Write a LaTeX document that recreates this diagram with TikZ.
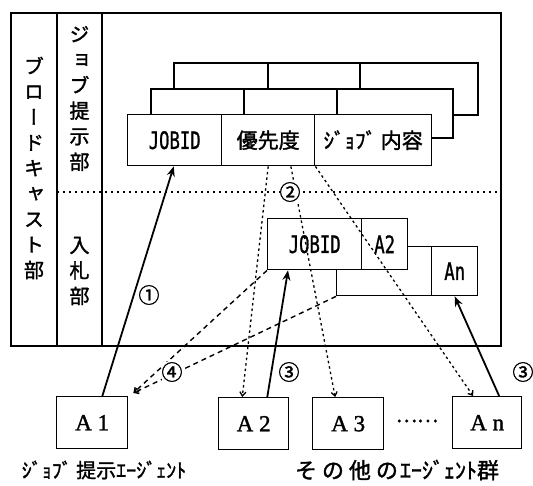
\documentclass[tikz,border=0pt]{standalone}
\usepackage{fontspec}
\newfontfamily\jp[FakeBold=1.6]{Noto Sans CJK JP}
\newfontfamily\jpv[RawFeature=+vert,FakeBold=1.6]{Noto Sans CJK JP}
\newfontfamily\monofnt[FakeBold=1.2]{DejaVu Sans Mono}
\newfontfamily\serfnt[FakeBold=1.5]{Liberation Serif}
\usetikzlibrary{calc,arrows.meta}
\begin{document}
\begin{tikzpicture}[x=1pt,y=-1pt,
  frame/.style={line width=1.4pt},
  cell/.style={draw, line width=1.4pt, fill=white, inner sep=0pt, anchor=north west,
    font=\monofnt\fontsize{24}{24}\selectfont},
  jcell/.style={cell, font=\jp\fontsize{21}{21}\selectfont},
  agent/.style={draw, line width=1.4pt, minimum width=71pt, minimum height=52pt, inner sep=0pt,
    anchor=north west, font=\serfnt\fontsize{23}{23}\selectfont},
  solidarrow/.style={line width=1.8pt, -{Stealth[length=10pt,width=8pt]}},
  dotarrow/.style={line width=1.3pt, dash pattern=on 2.5pt off 3pt, -{Straight Barb[length=4pt,width=6pt]}},
  dasharrow/.style={line width=1.4pt, dash pattern=on 5pt off 4pt, -{Straight Barb[length=4pt,width=6pt]}},
  sepline/.style={line width=1.5pt, dash pattern=on 2pt off 4pt},
  num/.style={font=\jp\fontsize{21}{21}\selectfont, inner sep=0pt},
  vtext/.style={font=\jpv\fontsize{20}{25.5}\selectfont, align=center, inner sep=0pt},
  jlabel/.style={font=\jp\fontsize{20}{20}\selectfont, inner sep=0pt}]
\useasboundingbox (0,0) rectangle (533,485);

% outer frame and columns
\draw[frame] (11,13) rectangle (501,346);
\draw[frame] (57,13) -- (57,346);
\draw[frame] (102,13) -- (102,346);
\draw[sepline] (57,192) -- (501,192);

% vertical labels
\node[vtext] (bcast) at (34,168) {ブ\\ロ\\ー\\ド\\キ\\ャ\\ス\\ト\\部};
\node[vtext] (jobpres) at (79.5,98.5) {ジ\\ョ\\ブ\\提\\示\\部};
\node[vtext] (bid) at (79.5,271) {入\\札\\部};

% job records (back to front)
\draw[frame, fill=white] (174,63) rectangle (478,115);
\draw[frame] (268,63) -- (268,89) (360,63) -- (360,89);
\draw[frame, fill=white] (151,89) rectangle (453,138);
\draw[frame] (244,89) -- (244,114) (337,89) -- (337,114);
\node[cell, minimum width=94pt, minimum height=51pt] (jobid) at (127,114) {\scalebox{0.72}[1]{JOBID}};
\node[jcell, minimum width=93pt, minimum height=51pt] (prio) at (221,114) {優先度};
\node[jcell, minimum width=117pt, minimum height=51pt] (content) at (314,114) {ｼﾞｮﾌﾞ 内容};

% bid records
\node[cell, minimum width=95pt, minimum height=49pt] (bidback) at (336,246) {};
\node[cell, minimum width=46pt, minimum height=49pt] (ancell) at (431,246) {\scalebox{0.72}[1]{An}};
\node[cell, minimum width=94pt, minimum height=51pt] (bidjob) at (267,218) {\scalebox{0.72}[1]{JOBID}};
\node[cell, minimum width=46pt, minimum height=51pt] (a2cell) at (361,218) {\scalebox{0.72}[1]{A2}};

% agents
\node[agent] (a1) at (56,396) {A 1};
\node[agent, minimum width=70pt] (a2) at (218,397) {A 2};
\node[agent] (a3) at (312,397) {A 3};
\node[agent, minimum width=69pt] (an) at (452,396) {A n};
\node[font=\jp\fontsize{20}{20}\selectfont, inner sep=0pt] (dots) at (417,421) {……};

\node[jlabel] (lab1) at (104,470) {ｼﾞｮﾌﾞ 提示ｴｰｼﾞｪﾝﾄ};
\node[jlabel, font=\jp\fontsize{22}{22}\selectfont] (lab2) at (397,470) {そ\kern5pt の\kern5pt 他\kern5pt の\kern2pt ｴｰｼﾞｪﾝﾄ群};

% (2) dotted arrows
\draw[dotarrow] (prio.south) -- ($(a2.north west)!0.34!(a2.north east)$);
\draw[dotarrow] ($(prio.south west)!0.74!(prio.south east)$) -- ($(a3.north west)!0.32!(a3.north east)$);
\draw[dotarrow] (prio.south east) -- ($(an.north west)!0.30!(an.north east)$);

% (4) dashed arrows
\coordinate (a1t) at ($(a1.north east)+(5,-3)$);
\draw[dasharrow] (bidjob.south west) -- (a1t);
\draw[dasharrow] (bidback.south west) -- (a1t);

% solid arrows
\draw[solidarrow] ($(a1.north west)!0.64!(a1.north east)$) -- ($(jobid.south west)!0.49!(jobid.south east)$);
\draw[solidarrow] ($(a2.north west)!0.69!(a2.north east)$) -- ($(bidjob.south west)!0.22!(bidjob.south east)$);
\draw[solidarrow] ($(an.north west)!0.67!(an.north east)$) -- ($(ancell.south west)!0.5!(ancell.south east)$);

% numbers
\node[num] (n1) at (149,295) {①};
\node[num, fill=white] (n2) at (290,192) {②};
\node[num] (n3a) at (289,372) {③};
\node[num] (n3b) at (523,372) {③};
\node[num, fill=white] (n4) at (172,372) {④};
\end{tikzpicture}
\end{document}
